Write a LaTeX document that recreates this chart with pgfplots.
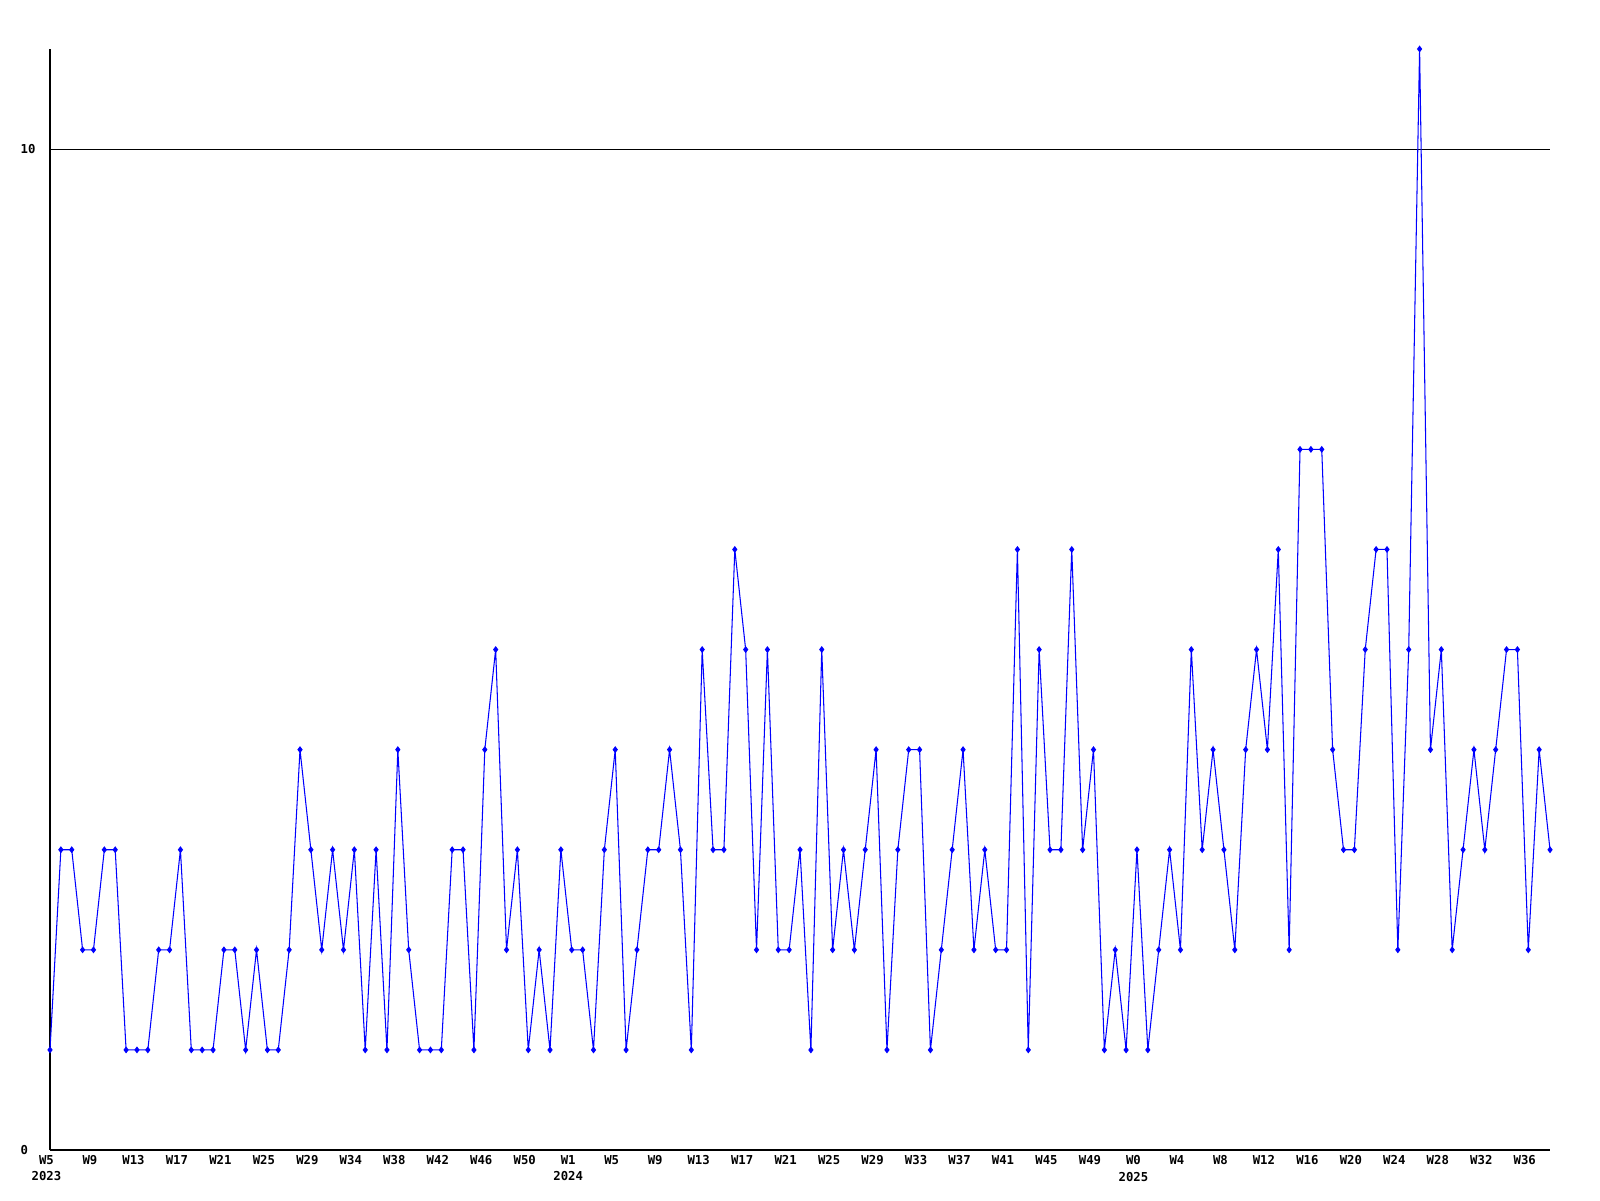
\documentclass[border=0pt]{standalone}
\usepackage{pgfplots}
\pgfplotsset{compat=1.18}
\usepackage{fontspec}
\setmainfont{DejaVu Sans Mono}
\newfontfamily\lblfont{DejaVu Sans Mono}[BoldFont=* Bold]
\begin{document}
\begin{tikzpicture}
\path[use as bounding box] (-0.5cm,-0.5cm) rectangle (15.5cm,11.5cm);
\begin{axis}[
  at={(0,0)}, anchor=south west,
  scale only axis, width=15cm, height=11.01cm,
  xmin=0, xmax=138, ymin=0, ymax=11,
  clip=false,
  axis x line*=bottom, axis y line*=left,
  axis line style={-, black, line width=0.35pt},
  major tick length=0pt,
  ytick={0,10},
  ymajorgrids, grid style={black, line width=0.3pt},
  xtick={0,4,...,136},
  xticklabels={{W5\\2023},W9,W13,W17,W21,W25,W29,W34,W38,W42,W46,W50,{W1\\2024},W5,W9,W13,W17,W21,W25,W29,W33,W37,W41,W45,W49,{W0\\2025},W4,W8,W12,W16,W20,W24,W28,W32,W36},
  xticklabel style={align=center, anchor=north, inner sep=0pt, yshift=-0.5mm, xshift=-0.35mm, font=\lblfont\bfseries\fontsize{3.5}{4.6}\selectfont},
  yticklabel style={anchor=west, inner sep=0pt, xshift=-0.3cm, font=\lblfont\bfseries\fontsize{3.5}{4.6}\selectfont},
  /pgf/number format/assume math mode=true,
]
\addplot[color={rgb,255:red,0;green,0;blue,255}, line width=0.3pt, mark=diamond*, mark size=0.75pt, mark options={solid}] coordinates {
(0,1)(1,3)(2,3)(3,2)(4,2)(5,3)(6,3)(7,1)(8,1)(9,1)
(10,2)(11,2)(12,3)(13,1)(14,1)(15,1)(16,2)(17,2)(18,1)(19,2)
(20,1)(21,1)(22,2)(23,4)(24,3)(25,2)(26,3)(27,2)(28,3)(29,1)
(30,3)(31,1)(32,4)(33,2)(34,1)(35,1)(36,1)(37,3)(38,3)(39,1)
(40,4)(41,5)(42,2)(43,3)(44,1)(45,2)(46,1)(47,3)(48,2)(49,2)
(50,1)(51,3)(52,4)(53,1)(54,2)(55,3)(56,3)(57,4)(58,3)(59,1)
(60,5)(61,3)(62,3)(63,6)(64,5)(65,2)(66,5)(67,2)(68,2)(69,3)
(70,1)(71,5)(72,2)(73,3)(74,2)(75,3)(76,4)(77,1)(78,3)(79,4)
(80,4)(81,1)(82,2)(83,3)(84,4)(85,2)(86,3)(87,2)(88,2)(89,6)
(90,1)(91,5)(92,3)(93,3)(94,6)(95,3)(96,4)(97,1)(98,2)(99,1)
(100,3)(101,1)(102,2)(103,3)(104,2)(105,5)(106,3)(107,4)(108,3)(109,2)
(110,4)(111,5)(112,4)(113,6)(114,2)(115,7)(116,7)(117,7)(118,4)(119,3)
(120,3)(121,5)(122,6)(123,6)(124,2)(125,5)(126,11)(127,4)(128,5)(129,2)
(130,3)(131,4)(132,3)(133,4)(134,5)(135,5)(136,2)(137,4)(138,3)
};
\end{axis}
\end{tikzpicture}
\end{document}
